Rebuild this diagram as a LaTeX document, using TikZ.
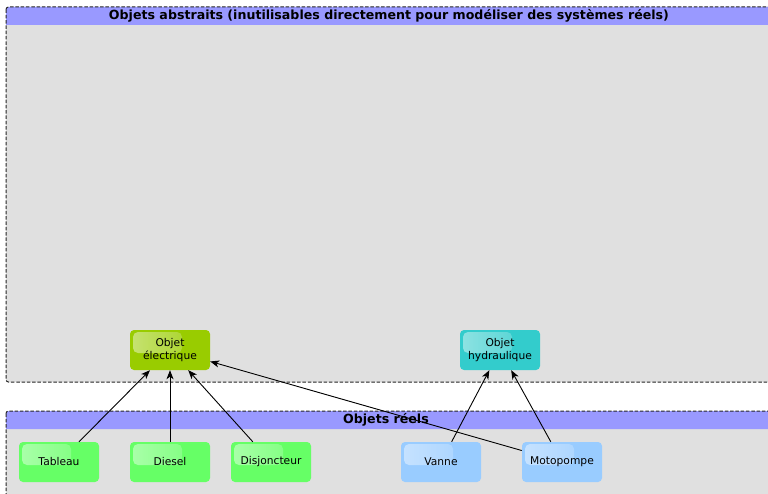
\documentclass[tikz,border=0pt]{standalone}
\usepackage{fontspec}
\setmainfont{DejaVu Sans}
\usetikzlibrary{arrows.meta,fadings}

\definecolor{pkghead}{HTML}{9999FF}
\definecolor{pkgbody}{HTML}{E0E0E0}
\definecolor{elecfill}{HTML}{99CC00}
\definecolor{hydrfill}{HTML}{33CCCC}
\definecolor{realgreen}{HTML}{66FF66}
\definecolor{realblue}{HTML}{99CCFF}

\tikzfading[name=glossfade, left color=transparent!55, right color=transparent!92]

\tikzset{
  cls/.style={draw=none, rounded corners=4pt, minimum width=80pt, minimum height=40pt,
    inner sep=0pt, align=center, font=\fontsize{10.7}{12.5}\selectfont,
    path picture={\fill[white, rounded corners=5pt, path fading=glossfade]
      ([shift={(3pt,-2pt)}]path picture bounding box.north west) rectangle
      ([shift={(52pt,-23pt)}]path picture bounding box.north west);}},
  pkgtitle/.style={font=\bfseries\fontsize{12.6}{14}\selectfont, inner sep=0pt},
  pkgedge/.style={draw=black!85, dash pattern=on 3.5pt off 1.8pt, line width=1pt, rounded corners=2.5pt},
  arr/.style={-{Stealth[length=9pt,width=7pt,inset=2.5pt]}, line width=0.9pt, black}
}

\begin{document}
\begin{tikzpicture}[x=1pt,y=-1pt]
\useasboundingbox (0,0) rectangle (768,494);
\clip (0,0) rectangle (768,494);

% abstract package
\fill[pkgbody, rounded corners=2.5pt] (6,7) rectangle (772,382);
\fill[pkghead, rounded corners=2.5pt] (6,7) rectangle (772,25);
\fill[pkghead] (6,15) rectangle (772,25);
\draw[pkgedge] (6,7) rectangle (772,382);
\node[pkgtitle] (abstitle) at (389,16) {Objets abstraits (inutilisables directement pour modéliser des systèmes réels)};

% concrete package
\fill[pkgbody, rounded corners=2.5pt] (6,411) rectangle (772,510);
\fill[pkghead, rounded corners=2.5pt] (6,411) rectangle (772,429);
\fill[pkghead] (6,420) rectangle (772,429);
\draw[pkgedge] (6,411) rectangle (772,510);
\node[pkgtitle] (realtitle) at (386,420) {Objets réels};

% abstract classes
\node[cls, fill=elecfill] (elec) at (170,350) {Objet\\électrique};
\node[cls, fill=hydrfill] (hydr) at (500,350) {Objet\\hydraulique};

% concrete classes
\node[cls, fill=realgreen] (tab) at (59,462) {Tableau};
\node[cls, fill=realgreen] (dies) at (170,462) {Diesel};
\node[cls, fill=realgreen] (disj) at (271,462) {Disjoncteur};
\node[cls, fill=realblue] (vanne) at (441,462) {Vanne};
\node[cls, fill=realblue] (moto) at (562,462) {Motopompe};

% inheritance links
\draw[arr] (tab) -- (elec);
\draw[arr] (dies) -- (elec);
\draw[arr] (disj) -- (elec);
\draw[arr] (moto) -- (elec);
\draw[arr] (vanne) -- (hydr);
\draw[arr] (moto) -- (hydr);
\end{tikzpicture}
\end{document}
